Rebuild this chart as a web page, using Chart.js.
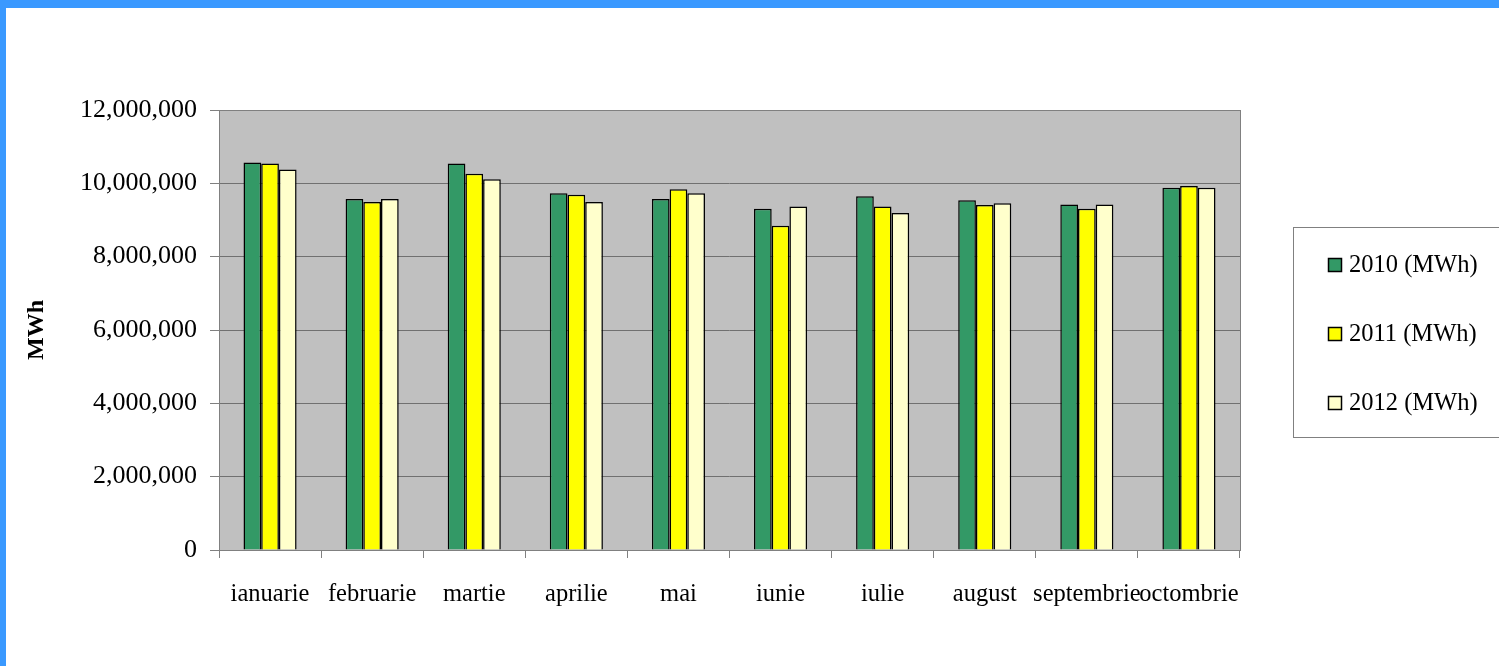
<!DOCTYPE html>
<html>
<head>
<meta charset="utf-8">
<script src="https://cdn.jsdelivr.net/npm/chart.js@4.4.1/dist/chart.umd.min.js"></script>
<style>
  html, body { margin: 0; padding: 0; background: #ffffff; overflow: hidden; }
  #wrap { position: relative; width: 1499px; height: 666px; }
  #c { position: absolute; left: 0; top: 0; }
  .bt { position: absolute; left: 0; top: 0; width: 1499px; height: 8px; background: #3a99ff; }
  .bl { position: absolute; left: 0; top: 0; width: 6px; height: 666px; background: #3a99ff; }
</style>
</head>
<body>
<div id="wrap">
  <canvas id="c" width="1499" height="666"></canvas>
  <div class="bt"></div>
  <div class="bl"></div>
</div>
<script>
const categories = ['ianuarie','februarie','martie','aprilie','mai','iunie','iulie','august','septembrie','octombrie'];
const series2010 = [10570000, 9570000, 10540000, 9730000, 9570000, 9310000, 9650000, 9540000, 9420000, 9880000];
const series2011 = [10540000, 9490000, 10260000, 9690000, 9840000, 8840000, 9370000, 9410000, 9310000, 9930000];
const series2012 = [10380000, 9570000, 10110000, 9490000, 9730000, 9370000, 9190000, 9460000, 9420000, 9880000];
const seriesLabels = ['2010 (MWh)', '2011 (MWh)', '2012 (MWh)'];
const yTickMax = 12000000;
const yTickStep = 2000000;
const yTitle = 'MWh';

const FONT = '"Liberation Serif", "Times New Roman", serif';

const plotBg = {
  id: 'plotBg',
  beforeDraw(chart) {
    const {ctx, chartArea: a} = chart;
    ctx.save();
    ctx.fillStyle = '#c0c0c0';
    ctx.fillRect(a.left, a.top, a.right - a.left, a.bottom - a.top);
    ctx.restore();
  },
  afterDatasetsDraw(chart) {
    const {ctx, chartArea: a} = chart;
    ctx.save();
    ctx.strokeStyle = '#808080';
    ctx.lineWidth = 1;
    ctx.strokeRect(Math.round(a.left) + 0.5, Math.round(a.top) + 0.5, Math.round(a.right - a.left), Math.round(a.bottom - a.top));
    ctx.restore();
  }
};

const boxLegend = {
  id: 'boxLegend',
  afterDraw(chart) {
    const {ctx} = chart;
    const x0 = 1293, y0 = 227, w = 220, h = 210;
    ctx.save();
    ctx.fillStyle = '#ffffff';
    ctx.fillRect(x0, y0, w, h);
    ctx.strokeStyle = '#808080';
    ctx.lineWidth = 1;
    ctx.strokeRect(x0 + 0.5, y0 + 0.5, w, h);
    const ys = [265, 334, 403];
    chart.data.datasets.forEach((ds, i) => {
      const y = ys[i];
      ctx.fillStyle = ds.backgroundColor;
      ctx.fillRect(1328, y - 7, 14, 14);
      ctx.strokeStyle = '#000000';
      ctx.lineWidth = 1.5;
      ctx.strokeRect(1328.5, y - 6.5, 13, 13);
      ctx.fillStyle = '#000000';
      ctx.font = '24.5px ' + FONT;
      ctx.textBaseline = 'middle';
      ctx.textAlign = 'left';
      ctx.fillText(ds.label, 1349, y + 1);
    });
    ctx.restore();
  }
};

new Chart(document.getElementById('c'), {
  type: 'bar',
  data: {
    labels: categories,
    datasets: [
      { label: seriesLabels[0], data: series2010, backgroundColor: '#339966', borderColor: '#000000', borderWidth: 1.5 },
      { label: seriesLabels[1], data: series2011, backgroundColor: '#ffff00', borderColor: '#000000', borderWidth: 1.5 },
      { label: seriesLabels[2], data: series2012, backgroundColor: '#ffffcc', borderColor: '#000000', borderWidth: 1.5 }
    ]
  },
  options: {
    responsive: false,
    animation: false,
    devicePixelRatio: 1,
    layout: { padding: { left: 0, top: 110, right: 259, bottom: 36 } },
    datasets: { bar: { categoryPercentage: 0.52, barPercentage: 1.0 } },
    plugins: {
      legend: { display: false },
      tooltip: { enabled: false },
      title: { display: false }
    },
    scales: {
      x: {
        offset: true,
        afterFit(scale) { scale.height = 80; },
        grid: { display: true, drawOnChartArea: false, drawTicks: true, tickLength: 8, color: '#808080', offset: true },
        border: { display: false },
        ticks: {
          autoSkip: false, maxRotation: 0, minRotation: 0, padding: 22,
          color: '#000000', font: { family: FONT, size: 24.5 }
        }
      },
      y: {
        min: 0, max: yTickMax,
        afterFit(scale) { scale.width = 219; },
        grid: { color: '#707070', lineWidth: 1, tickLength: 9, tickColor: '#808080' },
        border: { display: false },
        ticks: {
          stepSize: yTickStep, padding: 13, color: '#000000',
          font: { family: FONT, size: 26 },
          callback: (v) => Number(v).toLocaleString('en-US')
        },
        title: {
          display: true, text: yTitle, color: '#000000',
          font: { family: FONT, size: 24, weight: 'bold' },
          padding: { top: 22, bottom: 0 }
        }
      }
    }
  },
  plugins: [plotBg, boxLegend]
});
</script>
</body>
</html>
